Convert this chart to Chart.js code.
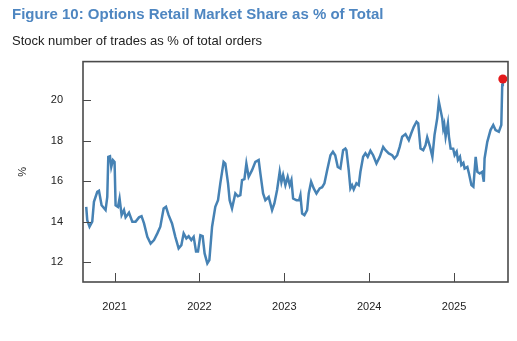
<!DOCTYPE html>
<html>
<head>
<meta charset="utf-8">
<script src="https://cdn.jsdelivr.net/npm/chart.js@4"></script>
<style>
  body { margin: 0; background: #fff; }
  #shareChart { display: block; }
</style>
</head>
<body>
<canvas id="shareChart" width="517" height="341"></canvas>
<script>
// decimal years on the x axis
const dates = [
  2020.666, 2020.678, 2020.705, 2020.737, 2020.757, 2020.796, 2020.816, 2020.847, 2020.894, 2020.914,
  2020.926, 2020.946, 2020.961, 2020.981, 2021.000, 2021.012, 2021.040, 2021.059, 2021.083, 2021.111,
  2021.130, 2021.170, 2021.209, 2021.248, 2021.288, 2021.318, 2021.347, 2021.386, 2021.425, 2021.465,
  2021.504, 2021.539, 2021.578, 2021.606, 2021.637, 2021.677, 2021.716, 2021.755, 2021.787, 2021.814,
  2021.846, 2021.873, 2021.904, 2021.932, 2021.960, 2021.983, 2022.011, 2022.038, 2022.061, 2022.093,
  2022.117, 2022.149, 2022.187, 2022.219, 2022.246, 2022.285, 2022.305, 2022.337, 2022.356, 2022.384,
  2022.423, 2022.453, 2022.482, 2022.502, 2022.530, 2022.553, 2022.580, 2022.620, 2022.659, 2022.698,
  2022.718, 2022.750, 2022.777, 2022.816, 2022.856, 2022.883, 2022.915, 2022.946, 2022.966, 2022.986,
  2023.013, 2023.040, 2023.064, 2023.084, 2023.104, 2023.143, 2023.175, 2023.190, 2023.210, 2023.237,
  2023.269, 2023.288, 2023.316, 2023.347, 2023.379, 2023.417, 2023.446, 2023.473, 2023.505, 2023.544,
  2023.573, 2023.600, 2023.630, 2023.661, 2023.693, 2023.720, 2023.732, 2023.759, 2023.779, 2023.799,
  2023.818, 2023.850, 2023.877, 2023.897, 2023.929, 2023.956, 2023.983, 2024.015, 2024.047, 2024.086,
  2024.125, 2024.165, 2024.192, 2024.231, 2024.271, 2024.298, 2024.330, 2024.360, 2024.389, 2024.428,
  2024.467, 2024.495, 2024.526, 2024.558, 2024.578, 2024.605, 2024.637, 2024.664, 2024.684, 2024.715,
  2024.745, 2024.770, 2024.802, 2024.821, 2024.841, 2024.861, 2024.873, 2024.885, 2024.901, 2024.928,
  2024.940, 2024.960, 2024.990, 2025.007, 2025.031, 2025.046, 2025.070, 2025.086, 2025.110, 2025.125,
  2025.157, 2025.176, 2025.205, 2025.228, 2025.255, 2025.275, 2025.303, 2025.332, 2025.351, 2025.360,
  2025.392, 2025.430, 2025.462, 2025.489, 2025.528, 2025.557, 2025.568, 2025.575
];

// options retail share, %
const share = [
  14.73, 14.07, 13.75, 14.0, 14.98, 15.47, 15.52, 14.81, 14.57, 15.22,
  17.2, 17.23, 16.7, 17.04, 16.95, 14.81, 14.73, 15.14, 14.32, 14.57,
  14.21, 14.44, 14.0, 14.0, 14.21, 14.27, 13.91, 13.25, 12.92, 13.09,
  13.42, 13.75, 14.65, 14.73, 14.32, 13.91, 13.25, 12.68, 12.84, 13.42,
  13.17, 13.28, 13.09, 13.25, 12.52, 12.52, 13.33, 13.28, 12.43, 11.94,
  12.1, 13.75, 14.73, 15.06, 15.89, 16.95, 16.87, 15.89, 15.06, 14.65,
  15.39, 15.25, 15.31, 16.05, 16.1, 16.87, 16.21, 16.54, 16.95, 17.04,
  16.38, 15.39, 15.06, 15.22, 14.57, 14.9, 15.56, 16.46, 15.95, 16.3,
  15.8, 16.21, 15.8, 16.05, 15.14, 15.06, 15.06, 15.3, 14.4, 14.32,
  14.57, 15.39, 15.97, 15.64, 15.39, 15.64, 15.7, 15.89, 16.54, 17.28,
  17.45, 17.28, 16.7, 16.62, 17.53, 17.61, 17.53, 16.54, 15.64, 15.8,
  15.59, 15.89, 15.8, 16.46, 17.2, 17.37, 17.2, 17.5, 17.28, 16.87,
  17.2, 17.69, 17.53, 17.37, 17.28, 17.12, 17.28, 17.69, 18.19, 18.32,
  18.02, 18.35, 18.68, 18.93, 18.85, 17.61, 17.53, 17.77, 18.16, 17.73,
  17.2, 18.27, 19.1, 19.92, 19.51, 19.1, 18.6, 18.8, 18.19, 18.85,
  18.2, 17.61, 17.6, 17.28, 17.45, 17.04, 17.2, 16.79, 16.9, 16.62,
  16.7, 16.38, 15.8, 15.72, 17.2, 16.46, 16.38, 16.46, 15.97, 17.12,
  17.94, 18.52, 18.77, 18.52, 18.44, 18.77, 20.74, 21.04
];

const yearTicks = [2021, 2022, 2023, 2024, 2025];
const pctTicks = [12, 14, 16, 18, 20];

const points = dates.map((d, i) => ({ x: d, y: share[i] }));
const latest = points[points.length - 1];

const axisColor = "#4a4a4a";
const textColor = "#222";
const font = "'Liberation Sans', Arial, sans-serif";

// frame around the plot plus short tick marks pointing inwards
const frameTicks = {
  id: "frameTicks",
  afterDatasetsDraw(chart) {
    const { ctx, chartArea: a, scales } = chart;
    ctx.save();
    ctx.strokeStyle = axisColor;
    ctx.lineWidth = 1;
    ctx.beginPath();
    scales.x.ticks.forEach((t) => {
      const px = Math.round(scales.x.getPixelForValue(t.value)) + 0.5;
      ctx.moveTo(px, a.bottom);
      ctx.lineTo(px, a.bottom - 9);
    });
    scales.y.ticks.forEach((t) => {
      const py = Math.round(scales.y.getPixelForValue(t.value)) + 0.5;
      ctx.moveTo(a.left, py);
      ctx.lineTo(a.left + 8, py);
    });
    ctx.stroke();
    ctx.lineWidth = 1.6;
    ctx.strokeRect(a.left, a.top, a.right - a.left, a.bottom - a.top);
    ctx.restore();
  },
};

new Chart(document.getElementById("shareChart"), {
  type: "line",
  data: {
    datasets: [
      {
        data: points,
        borderColor: "#4682b4",
        borderWidth: 2.5,
        pointRadius: 0,
        tension: 0,
        order: 2,
      },
      {
        data: [latest],
        backgroundColor: "#e31a1c",
        borderWidth: 0,
        pointRadius: 4.5,
        showLine: false,
        order: 1,
      },
    ],
  },
  options: {
    responsive: false,
    animation: false,
    layout: { padding: { left: 12, right: 9, top: 6, bottom: 0 } },
    plugins: {
      legend: { display: false },
      tooltip: { enabled: false },
      title: {
        display: true,
        text: "Figure 10: Options Retail Market Share as % of Total",
        align: "start",
        color: "#4e86c1",
        font: { family: font, size: 15, weight: "bold" },
        padding: { top: 0, bottom: 10 },
      },
      subtitle: {
        display: true,
        text: "Stock number of trades as % of total orders",
        align: "start",
        color: textColor,
        font: { family: font, size: 13 },
        padding: { top: 0, bottom: 12 },
      },
    },
    scales: {
      x: {
        type: "linear",
        min: 2020.628,
        max: 2025.636,
        grid: { display: false },
        border: { display: false },
        afterBuildTicks: (s) => { s.ticks = yearTicks.map((v) => ({ value: v })); },
        afterFit: (s) => { s.height = 59; },
        ticks: {
          color: textColor,
          font: { family: font, size: 11 },
          padding: 10,
          maxRotation: 0,
          callback: (v) => String(v),
        },
      },
      y: {
        min: 11.02,
        max: 21.9,
        grid: { display: false },
        border: { display: false },
        afterBuildTicks: (s) => { s.ticks = pctTicks.map((v) => ({ value: v })); },
        afterFit: (s) => { s.width = 71; },
        ticks: {
          color: textColor,
          font: { family: font, size: 11 },
          padding: 12,
          callback: (v) => String(v),
        },
        title: {
          display: true,
          text: "%",
          color: textColor,
          font: { family: font, size: 11 },
          padding: { top: 4, bottom: 0 },
        },
      },
    },
  },
  plugins: [frameTicks],
});
</script>
</body>
</html>
